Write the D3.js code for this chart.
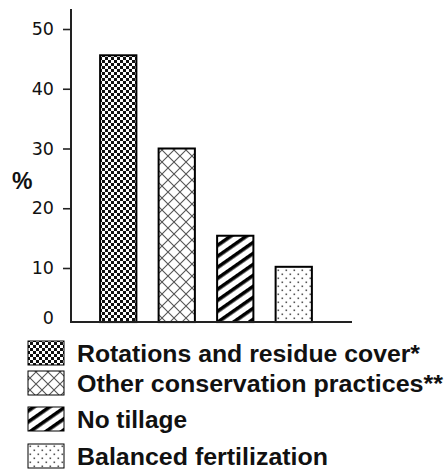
<!DOCTYPE html>
<html><head><meta charset="utf-8">
<script src="https://cdn.jsdelivr.net/npm/d3@7"></script>
<style>html,body{margin:0;padding:0;background:#fff;}svg{display:block;}</style>
</head><body>
<script>
// ---- data ----
const categories = ["Rotations and residue cover*", "Other conservation practices**", "No tillage", "Balanced fertilization"];
const values = [45.6, 30, 15.4, 10.2];
const patterns = ["checker", "crosshatch", "stripes", "dots"];
const yTickValues = [0, 10, 20, 30, 40, 50];
const yLabel = "%";
const axisFloor = 0.95; // value at which the category axis crosses the value axis

const W = 445, H = 469;
const svg = d3.select("body").append("svg").attr("width", W).attr("height", H);
const defs = svg.append("defs");

// patterns
function mkPattern(id, w, h, fn, transform) {
  const p = defs.append("pattern").attr("id", id).attr("patternUnits", "userSpaceOnUse")
    .attr("width", w).attr("height", h);
  if (transform) p.attr("patternTransform", transform);
  p.append("rect").attr("width", w).attr("height", h).attr("fill", "#fff");
  fn(p);
}
mkPattern("checker", 6, 6, p => {
  p.append("rect").attr("x", 0).attr("y", 0).attr("width", 3).attr("height", 3).attr("fill", "#111");
  p.append("rect").attr("x", 3).attr("y", 3).attr("width", 3).attr("height", 3).attr("fill", "#111");
});
mkPattern("crosshatch", 12, 12, p => {
  p.append("path").attr("d", "M0,0L12,12M0,12L12,0").attr("stroke", "#555").attr("stroke-width", 1.1).attr("fill", "none");
});
mkPattern("stripes", 9, 9, p => {
  p.append("rect").attr("x", 0).attr("y", 0).attr("width", 9).attr("height", 3.6).attr("fill", "#000");
}, "rotate(-35)");
mkPattern("dots", 8, 8, p => {
  p.append("rect").attr("x", 1.5).attr("y", 1.5).attr("width", 1.6).attr("height", 1.6).attr("fill", "#555");
  p.append("rect").attr("x", 5.5).attr("y", 5.5).attr("width", 1.6).attr("height", 1.6).attr("fill", "#555");
});

// scales
const y = d3.scaleLinear().domain([0, 50]).range([327.75, 29]);
const x = d3.scaleBand().domain(categories).range([89, 323]).paddingInner(0.38).paddingOuter(0.19);
const axisX0 = 71, axisX1 = 352;
const baseY = y(axisFloor);

// bars
svg.append("g").selectAll("rect").data(categories).join("rect")
  .attr("x", d => x(d))
  .attr("y", (d, i) => y(values[i]))
  .attr("width", x.bandwidth())
  .attr("height", (d, i) => baseY - y(values[i]))
  .attr("fill", (d, i) => `url(#${patterns[i]})`)
  .attr("stroke", "#000").attr("stroke-width", 2);

// y axis
const yAxis = svg.append("g").attr("transform", `translate(${axisX0},0)`)
  .call(d3.axisLeft(y).tickValues(yTickValues).tickSize(8).tickPadding(9).tickFormat(d3.format("d")));
yAxis.select(".domain").remove();
yAxis.selectAll(".tick line").attr("stroke", "#222").attr("stroke-width", 1.6);
yAxis.selectAll(".tick text").attr("font-family", "DejaVu Sans").attr("font-size", 17.5).attr("fill", "#111");
// zero label sits on the category axis, without a tick mark
yAxis.selectAll(".tick").filter(d => d === 0)
  .attr("transform", `translate(0,${baseY - 4})`)
  .select("line").remove();

svg.append("line").attr("x1", axisX0).attr("x2", axisX0).attr("y1", 9).attr("y2", baseY + 1)
  .attr("stroke", "#222").attr("stroke-width", 2);
svg.append("line").attr("x1", axisX0).attr("x2", axisX1).attr("y1", baseY).attr("y2", baseY)
  .attr("stroke", "#222").attr("stroke-width", 2);

svg.append("text").attr("x", 12).attr("y", 189).text(yLabel)
  .attr("font-family", "Liberation Sans").attr("font-weight", "bold").attr("font-size", 23).attr("fill", "#111");

// legend
const legendBaselines = [362, 392, 428, 465];
const legendTextWidths = [343, 366, 110, 251];
const lg = svg.append("g");
categories.forEach((c, i) => {
  const b = legendBaselines[i];
  lg.append("rect").attr("x", 28).attr("y", b - 21).attr("width", 36).attr("height", 24)
    .attr("fill", `url(#${patterns[i]})`).attr("stroke", "#000").attr("stroke-width", 1);
  lg.append("text").attr("x", 77).attr("y", b).text(c)
    .attr("font-family", "Liberation Sans").attr("font-weight", "bold").attr("font-size", 23.5)
    .attr("fill", "#111")
    .attr("textLength", legendTextWidths[i]).attr("lengthAdjust", "spacingAndGlyphs");
});
</script>
</body></html>
